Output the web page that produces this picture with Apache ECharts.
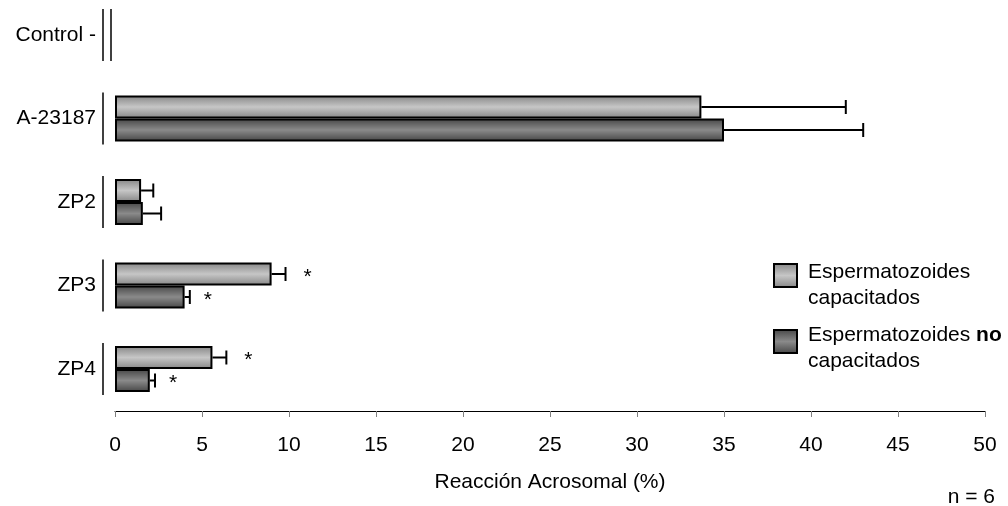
<!DOCTYPE html>
<html><head><meta charset="utf-8">
<script src="https://cdn.jsdelivr.net/npm/echarts@6/dist/echarts.min.js"></script>
<style>html,body{margin:0;padding:0;background:#fff}#c{width:1008px;height:506px}</style>
</head><body><div id="c"></div>
<script>
const categories = ['Control -', 'A-23187', 'ZP2', 'ZP3', 'ZP4'];
const seriesNames = ['Espermatozoides capacitados', 'Espermatozoides no capacitados'];
const capValues = [null, 33.7, 1.5, 9.0, 5.6];
const capErrors = [null, 8.3, 0.7, 0.8, 0.8];
const noCapValues = [null, 35.0, 1.6, 4.0, 2.0];
const noCapErrors = [null, 8.0, 1.05, 0.3, 0.3];
const capSig = [0, 0, 0, 1, 1];
const noCapSig = [0, 0, 0, 1, 1];
const doubleBracket = [1, 0, 0, 0, 0];
const xMin = 0, xMax = 50, xStep = 5;
const axisTitle = 'Reacción Acrosomal (%)';
const noteText = 'n = 6';

const FONT = "'Liberation Sans', Arial, sans-serif";
const BAR_W = 23;
function grad(edge, mid) {
  return new echarts.graphic.LinearGradient(0, 0, 0, 1, [
    {offset: 0, color: edge}, {offset: 0.5, color: mid}, {offset: 1, color: edge}
  ]);
}
const lightFill = () => grad('#858585', '#c6c6c6');
const darkFill = () => grad('#454545', '#8a8a8a');

function errData(vals, errs, sig) {
  const out = [];
  vals.forEach((v, i) => { if (v != null) out.push([i, v, errs[i], sig[i]]); });
  return out;
}
function errRender(sign) {
  return function (params, api) {
    const cat = api.value(0), v = api.value(1), e = api.value(2), s = api.value(3);
    const p0 = api.coord([v, cat]);
    const p1 = api.coord([v + e, cat]);
    const y = p0[1] + sign * BAR_W / 2;
    const st = {stroke: '#000', lineWidth: 2};
    const ch = [
      {type: 'line', shape: {x1: p0[0], y1: y, x2: p1[0], y2: y}, style: st},
      {type: 'line', shape: {x1: p1[0], y1: y - 7, x2: p1[0], y2: y + 7}, style: st}
    ];
    if (s) ch.push({type: 'text', style: {text: '*', x: p1[0] + (sign < 0 ? 22 : 18), y: y + 3,
      align: 'center', verticalAlign: 'middle', fill: '#000', font: '21px ' + FONT}});
    return {type: 'group', children: ch};
  };
}

const chart = echarts.init(document.getElementById('c'));
chart.setOption({
  animation: false,
  textStyle: {fontFamily: FONT},
  grid: {left: 115, right: 23, top: 35, bottom: 137},
  xAxis: {
    type: 'value', min: xMin, max: xMax, interval: xStep, offset: 42,
    axisLine: {show: true, lineStyle: {color: '#000', width: 1}},
    axisTick: {show: true, length: 6, lineStyle: {color: '#808080', width: 1}},
    splitLine: {show: false},
    axisLabel: {color: '#000', fontSize: 21, margin: 24, fontFamily: FONT},
    name: axisTitle, nameLocation: 'middle', nameGap: 61,
    nameTextStyle: {color: '#000', fontSize: 21, fontFamily: FONT}
  },
  yAxis: {
    type: 'category', data: categories, inverse: true, boundaryGap: false,
    axisLine: {show: false}, axisTick: {show: false}, splitLine: {show: false},
    axisLabel: {color: '#000', fontSize: 21, margin: 19, fontFamily: FONT}
  },
  graphic: [
    {type: 'rect', left: 773, top: 263, shape: {width: 23, height: 23},
      style: {fill: lightFill(), stroke: '#000', lineWidth: 2}},
    {type: 'rect', left: 773, top: 329, shape: {width: 23, height: 23},
      style: {fill: darkFill(), stroke: '#000', lineWidth: 2}},
    {type: 'text', left: 808, top: 259, style: {
      text: seriesNames[0].replace(' ', '\n'), font: '21px ' + FONT, fill: '#000', lineHeight: 26}},
    {type: 'text', left: 808, top: 325, style: {
      text: '{a|Espermatozoides }{b|no}\n{a|capacitados}', fill: '#000',
      rich: {a: {fontSize: 21, fontFamily: FONT, lineHeight: 26},
             b: {fontSize: 21, fontFamily: FONT, fontWeight: 'bold', lineHeight: 26}}}},
    {type: 'text', right: 13, top: 487, style: {text: noteText, font: '21px ' + FONT, fill: '#000'}}
  ],
  series: [
    {name: seriesNames[0], type: 'bar', data: capValues, barWidth: BAR_W, barGap: '0%', clip: false,
      itemStyle: {color: lightFill(), borderColor: '#000', borderWidth: 2}, z: 2},
    {name: seriesNames[1], type: 'bar', data: noCapValues, barWidth: BAR_W, barGap: '0%', clip: false,
      itemStyle: {color: darkFill(), borderColor: '#000', borderWidth: 2}, z: 2},
    {type: 'custom', clip: false, renderItem: errRender(-1), data: errData(capValues, capErrors, capSig), z: 3},
    {type: 'custom', clip: false, renderItem: errRender(1), data: errData(noCapValues, noCapErrors, noCapSig), z: 3},
    {type: 'custom', clip: false, z: 3, data: categories.map((c, i) => [0, i, doubleBracket[i]]),
      renderItem: function (params, api) {
        const p = api.coord([api.value(0), api.value(1)]);
        const st = {stroke: '#000', lineWidth: 1.5};
        const ch = [{type: 'line', shape: {x1: p[0] - 12, y1: p[1] - 26, x2: p[0] - 12, y2: p[1] + 26}, style: st}];
        if (api.value(2)) ch.push({type: 'line', shape: {x1: p[0] - 4, y1: p[1] - 26, x2: p[0] - 4, y2: p[1] + 26}, style: st});
        return {type: 'group', children: ch};
      }}
  ]
});
</script></body></html>
